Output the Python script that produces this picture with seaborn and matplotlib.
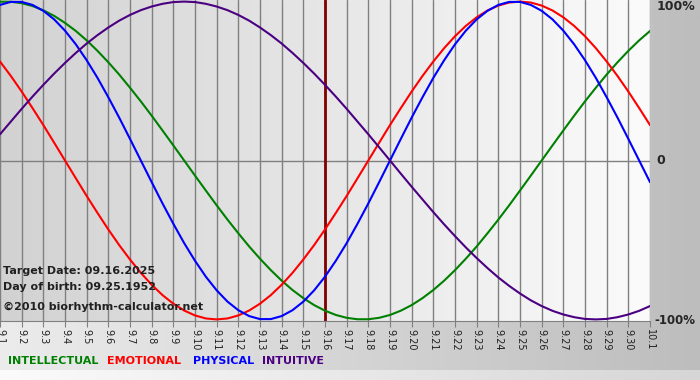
import numpy as np
import pandas as pd
import matplotlib
matplotlib.use("Agg")
import matplotlib.pyplot as plt
import seaborn as sns
from matplotlib.colors import LinearSegmentedColormap

# date labels on the x axis (9.1 .. 10.1)
days = ['9.1', '9.2', '9.3', '9.4', '9.5', '9.6', '9.7', '9.8', '9.9', '9.10',
        '9.11', '9.12', '9.13', '9.14', '9.15', '9.16', '9.17', '9.18', '9.19', '9.20',
        '9.21', '9.22', '9.23', '9.24', '9.25', '9.26', '9.27', '9.28', '9.29', '9.30',
        '10.1']
target_day = '9.16'

# curve values every half day (day 0 = 9.1 ... day 30 = 10.1)
sample_day = [i / 2 for i in range(61)]
intellectual = [0.999, 0.999, 0.990, 0.972, 0.945, 0.910, 0.866, 0.815, 0.756, 0.690,
                0.618, 0.541, 0.458, 0.372, 0.282, 0.189, 0.095, 0.000, -0.095, -0.189,
                -0.282, -0.372, -0.458, -0.541, -0.618, -0.690, -0.756, -0.815, -0.866, -0.910,
                -0.945, -0.972, -0.990, -0.999, -0.999, -0.990, -0.972, -0.945, -0.910, -0.866,
                -0.815, -0.756, -0.690, -0.618, -0.541, -0.458, -0.372, -0.282, -0.189, -0.095,
                0.000, 0.095, 0.189, 0.282, 0.372, 0.458, 0.541, 0.618, 0.690, 0.756,
                0.815]
emotional = [0.623, 0.532, 0.434, 0.330, 0.223, 0.112, 0.000, -0.112, -0.223, -0.330,
             -0.434, -0.532, -0.623, -0.707, -0.782, -0.847, -0.901, -0.944, -0.975, -0.994,
             -1.000, -0.994, -0.975, -0.944, -0.901, -0.847, -0.782, -0.707, -0.623, -0.532,
             -0.434, -0.330, -0.223, -0.112, 0.000, 0.112, 0.223, 0.330, 0.434, 0.532,
             0.623, 0.707, 0.782, 0.847, 0.901, 0.944, 0.975, 0.994, 1.000, 0.994,
             0.975, 0.944, 0.901, 0.847, 0.782, 0.707, 0.623, 0.532, 0.434, 0.330,
             0.223]
physical = [0.979, 0.998, 0.998, 0.979, 0.942, 0.888, 0.817, 0.731, 0.631, 0.520,
            0.398, 0.270, 0.136, 0.000, -0.136, -0.270, -0.398, -0.520, -0.631, -0.731,
            -0.817, -0.888, -0.942, -0.979, -0.998, -0.998, -0.979, -0.942, -0.888, -0.817,
            -0.731, -0.631, -0.520, -0.398, -0.270, -0.136, 0.000, 0.136, 0.270, 0.398,
            0.520, 0.631, 0.731, 0.817, 0.888, 0.942, 0.979, 0.998, 0.998, 0.979,
            0.942, 0.888, 0.817, 0.731, 0.631, 0.520, 0.398, 0.270, 0.136, 0.000,
            -0.136]
intuitive = [0.165, 0.245, 0.325, 0.402, 0.476, 0.547, 0.614, 0.677, 0.736, 0.789,
             0.837, 0.880, 0.916, 0.946, 0.969, 0.986, 0.997, 1.000, 0.997, 0.986,
             0.969, 0.946, 0.916, 0.880, 0.837, 0.789, 0.736, 0.677, 0.614, 0.547,
             0.476, 0.402, 0.325, 0.245, 0.165, 0.083, 0.000, -0.083, -0.165, -0.245,
             -0.325, -0.402, -0.476, -0.547, -0.614, -0.677, -0.736, -0.789, -0.837, -0.880,
             -0.916, -0.946, -0.969, -0.986, -0.997, -1.000, -0.997, -0.986, -0.969, -0.946,
             -0.916]

colors = {'INTELLECTUAL': '#008000', 'EMOTIONAL': '#ff0000',
          'PHYSICAL': '#0000ff', 'INTUITIVE': '#4b0082'}

frames = []
for name, vals in [('INTELLECTUAL', intellectual), ('EMOTIONAL', emotional),
                   ('PHYSICAL', physical), ('INTUITIVE', intuitive)]:
    frames.append(pd.DataFrame({'day': sample_day, 'value': vals, 'series': name}))
df = pd.concat(frames, ignore_index=True)

sns.set_style("white")
plt.rcParams['font.family'] = ['DejaVu Sans']

fig = plt.figure(figsize=(7, 3.8), dpi=100)

# figure background: light grey fading to darker grey on the right
bg = fig.add_axes([0, 0, 1, 1], zorder=-10)
bg_cmap = LinearSegmentedColormap.from_list('bg', ['#ececec', '#bdbdbd'])
bg.imshow(np.linspace(0, 1, 256).reshape(1, -1), aspect='auto', cmap=bg_cmap,
          extent=[0, 1, 0, 1])
strip_cmap = LinearSegmentedColormap.from_list('strip', ['#fbfbfb', '#d6d6d6'])
bg.imshow(np.linspace(0, 1, 256).reshape(1, -1), aspect='auto', cmap=strip_cmap,
          extent=[0, 1, 0, 10 / 380])
bg.set_xlim(0, 1)
bg.set_ylim(0, 1)
bg.axis('off')

ax = fig.add_axes([0, 1 - 321 / 380, 650 / 700, 321 / 380])
plot_cmap = LinearSegmentedColormap.from_list('plot', ['#d2d2d2', '#fbfbfb'])
ax.imshow(np.linspace(0, 1, 256).reshape(1, -1), aspect='auto', cmap=plot_cmap,
          extent=[0, 1, 0, 1], transform=ax.transAxes, zorder=0)

ax.set_xlim(0, len(days) - 1)
ax.set_ylim(-1.01, 1.01)
ax.set_xticks(range(len(days)))
ax.set_xticklabels(days)
ax.set_yticks([])
ax.grid(axis='x', color='#808080', lw=1)
ax.axhline(0, color='#808080', lw=1, zorder=1)
ax.axvline(days.index(target_day), color='#800000', lw=2, zorder=1)

sns.lineplot(data=df, x='day', y='value', hue='series', palette=colors,
             linewidth=1.5, legend=False, ax=ax, zorder=3)
ax.set_xlabel('')
ax.set_ylabel('')

for s in ['top', 'left', 'right']:
    ax.spines[s].set_visible(False)
ax.spines['bottom'].set_color('#808080')
ax.tick_params(axis='x', direction='out', length=4, color='#808080', labelsize=7,
               labelrotation=-90, pad=2, labelcolor='#202020', bottom=True)

# right-hand percent labels
ax.text(1.01, 1.0, '100%', transform=ax.transAxes, fontsize=9, fontweight='bold',
        ha='left', va='top')
ax.text(1.01, 0.5, '0', transform=ax.transAxes, fontsize=9, fontweight='bold',
        ha='left', va='center')
ax.text(1.006, 0.0, '-100%', transform=ax.transAxes, fontsize=8.5, fontweight='bold',
        ha='left', va='center')

# info text
fig.text(3 / 700, 1 - 271 / 380, 'Target Date: 09.16.2025', fontsize=8, fontweight='bold',
         va='center', color='#202020')
fig.text(3 / 700, 1 - 287 / 380, 'Day of birth: 09.25.1952', fontsize=8, fontweight='bold',
         va='center', color='#202020')
fig.text(3 / 700, 1 - 307 / 380, '\u00a92010 biorhythm-calculator.net', fontsize=8,
         fontweight='bold', va='center', color='#202020')

# legend words
for name, x in [('INTELLECTUAL', 8), ('EMOTIONAL', 107), ('PHYSICAL', 193), ('INTUITIVE', 262)]:
    fig.text(x / 700, 1 - 361 / 380, name, fontsize=8, fontweight='bold',
             color=colors[name], va='center')

fig.savefig('out.png', dpi=100)
